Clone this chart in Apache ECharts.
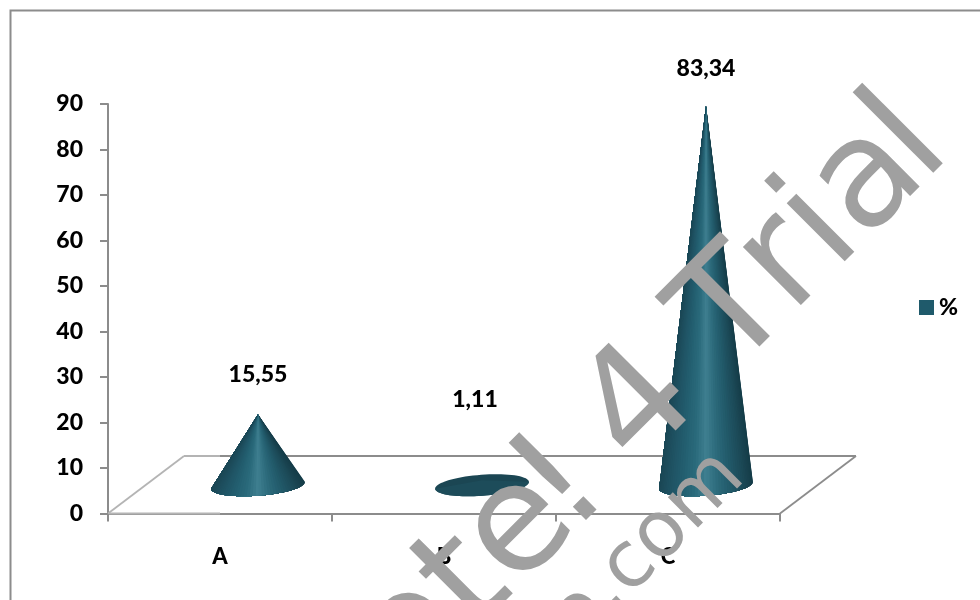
<!DOCTYPE html>
<html>
<head>
<meta charset="utf-8">
<style>html,body{margin:0;padding:0;background:#fff}#chart{width:980px;height:600px}</style>
<script src="https://cdn.jsdelivr.net/npm/echarts@6/dist/echarts.min.js"></script>
</head>
<body>
<div id="chart"></div>
<script>
// Chart data
const categories = ['A', 'B', 'C'];
const shares = [15.55, 1.11, 83.34];
const yTicks = { min: 0, max: 90, interval: 10 };
const seriesName = '%';
const watermarkWords = ['l', 'ria', 'T', '4', '!', 'Complete'];
const watermarkSecond = 'e.com';

// Drawing constants for the pseudo-3D floor and cones
const INK = '#000000';
const LINE = '#8c8c8c';
const LINE_SOFT = '#b4b4b4';
const SWATCH = '#1f5a6b';
const FONT = 'Lato';
const LABEL_WEIGHT = 900;
const DEPTH_X = 76, DEPTH_Y = 57.5;
const BASE_RX = 47, BASE_RY = 10.5, BASE_TILT = -0.075, SLICES = 48;
const LABEL_LIFT = [40, 81, 37];
const LABEL_SHIFT = [0, -7, 0];
const SHADE = ['#1b4755', '#1f5364', '#235f70', '#2a6a7b', '#3f7f90', '#2c6a7b', '#225b6b', '#1d4c5a', '#153c48'];

// Watermark placement: pieces run along one 45 degree baseline, each ending this far back from its origin
const MARK_ORIGIN = [976, 181];
const MARK_BACK = [-3, 30, 217, 350, 478, 523];
const MARK_SECOND = [760, 492];

const chart = echarts.init(document.getElementById('chart'), null, { renderer: 'canvas' });

function basePoint(cx, cy, t) {
  const c = Math.cos(t), s = Math.sin(t);
  return [
    cx + BASE_RX * c * Math.cos(BASE_TILT) - BASE_RY * s * Math.sin(BASE_TILT),
    cy + BASE_RX * c * Math.sin(BASE_TILT) + BASE_RY * s * Math.cos(BASE_TILT)
  ];
}

// A cone standing mid-way across the floor; its height comes from the value axis
function renderCone(params, api) {
  const idx = api.value(0);
  const value = api.value(1);
  const foot = api.coord([idx, 0]);
  const top = api.coord([idx, value]);
  const cx = foot[0] + DEPTH_X / 2;
  const cy = foot[1] - DEPTH_Y / 2 + 0.5;
  const apex = [cx, cy - (foot[1] - top[1])];
  const children = [];
  const short = cy - apex[1] < BASE_RY * 2;

  if (short) {
    const ring = [];
    for (let i = 0; i < 72; i++) ring.push(basePoint(cx, cy, (i / 72) * Math.PI * 2));
    children.push({ type: 'polygon', shape: { points: ring }, style: { fill: '#1b4653' } });
    const lower = [apex];
    for (let i = 0; i <= SLICES; i++) lower.push(basePoint(cx, cy, (i / SLICES) * Math.PI));
    children.push({ type: 'polygon', shape: { points: lower }, style: { fill: '#1d4c5a' } });
  } else {
    // Painter's order: each fan covers the rest of the arc, so no seams show between tones
    const arc = [];
    for (let i = 0; i <= SLICES; i++) arc.push(basePoint(cx, cy, (i / SLICES) * Math.PI));
    for (let i = 0; i < SLICES; i++) {
      const mid = (arc[i][0] + arc[i + 1][0]) / 2;
      const pos = (mid - (cx - BASE_RX)) / (2 * BASE_RX);
      const tone = echarts.color.lerp(Math.min(1, Math.max(0, pos)), SHADE);
      children.push({
        type: 'polygon',
        shape: { points: [apex].concat(arc.slice(i)) },
        style: { fill: tone }
      });
    }
  }

  children.push({
    type: 'text',
    x: cx + LABEL_SHIFT[idx],
    y: apex[1] - LABEL_LIFT[idx],
    style: {
      text: value.toFixed(2).replace('.', ','),
      fill: INK,
      font: LABEL_WEIGHT + ' 23px ' + FONT,
      align: 'center',
      verticalAlign: 'middle'
    }
  });
  return { type: 'group', children };
}

// The floor parallelogram behind the cones, built from the plot rectangle
function renderFloor(params) {
  const cs = params.coordSys;
  const x0 = cs.x, x1 = cs.x + cs.width, y0 = cs.y + cs.height;
  const seg = (ax, ay, bx, by, color, w) => ({
    type: 'line',
    shape: { x1: ax, y1: ay, x2: bx, y2: by },
    style: { stroke: color, lineWidth: w }
  });
  const backY = y0 - DEPTH_Y;
  return {
    type: 'group',
    children: [
      seg(x0, y0, x0 + DEPTH_X, backY, LINE_SOFT, 1.8),
      seg(x0 + DEPTH_X, backY, x0 + 112, backY, LINE_SOFT, 2),
      seg(x0 + 112, backY, x1 + DEPTH_X, backY, LINE, 2),
      seg(x1, y0, x1 + DEPTH_X, backY, LINE, 1.8),
      seg(x0 + 1, y0, x0 + 112, y0, LINE_SOFT, 2)
    ]
  };
}

function watermarkWord(text, x, y, size) {
  return {
    type: 'text',
    z: 50,
    silent: true,
    x,
    y,
    rotation: Math.PI / 4,
    style: {
      text,
      fill: '#a0a0a0',
      font: size + 'px "DejaVu Sans"',
      align: 'right',
      verticalAlign: 'bottom'
    }
  };
}

const firstLine = MARK_BACK.map((back, i) => watermarkWord(
  watermarkWords[i],
  MARK_ORIGIN[0] - back * Math.SQRT1_2,
  MARK_ORIGIN[1] + back * Math.SQRT1_2,
  150
));

chart.setOption({
  animation: false,
  backgroundColor: '#ffffff',
  grid: { left: 108, top: 104, width: 672, height: 409.5, containLabel: false },
  legend: {
    data: [seriesName],
    left: 914,
    top: 291,
    icon: 'rect',
    itemWidth: 15,
    itemHeight: 15,
    itemGap: 9,
    selectedMode: false,
    textStyle: { color: INK, fontFamily: FONT, fontWeight: LABEL_WEIGHT, fontSize: 23 }
  },
  xAxis: {
    type: 'category',
    data: categories,
    boundaryGap: true,
    axisLine: { onZero: false, lineStyle: { color: LINE, width: 2 } },
    axisTick: { show: true, alignWithLabel: false, length: 8, lineStyle: { color: LINE, width: 2 } },
    axisLabel: { margin: 32, color: INK, fontFamily: FONT, fontWeight: LABEL_WEIGHT, fontSize: 22 },
    splitLine: { show: false }
  },
  yAxis: {
    type: 'value',
    min: yTicks.min,
    max: yTicks.max,
    interval: yTicks.interval,
    axisLine: { show: true, lineStyle: { color: LINE, width: 2 } },
    axisTick: { show: true, length: 8, lineStyle: { color: LINE, width: 2 } },
    axisLabel: { margin: 25, padding: [2, 0, 0, 0], color: INK, fontFamily: FONT, fontWeight: LABEL_WEIGHT, fontSize: 23 },
    splitLine: { show: false }
  },
  series: [
    {
      name: 'floor',
      type: 'custom',
      coordinateSystem: 'cartesian2d',
      silent: true,
      z: 1,
      clip: false,
      renderItem: renderFloor,
      data: [[0, 0]]
    },
    {
      name: seriesName,
      type: 'custom',
      coordinateSystem: 'cartesian2d',
      z: 3,
      clip: false,
      itemStyle: { color: SWATCH },
      encode: { x: 0, y: 1 },
      renderItem: renderCone,
      data: shares.map((v, i) => [i, v])
    }
  ],
  graphic: [
    // Outer frame: top and left edges only
    {
      type: 'polyline',
      z: 5,
      silent: true,
      shape: { points: [[10.5, 600], [10.5, 10.5], [980, 10.5]] },
      style: { stroke: LINE, lineWidth: 2, fill: 'none' }
    },
    // Diagonal watermark painted over the plot
    ...firstLine,
    watermarkWord(watermarkSecond, MARK_SECOND[0], MARK_SECOND[1], 78)
  ]
});
</script>
</body>
</html>
